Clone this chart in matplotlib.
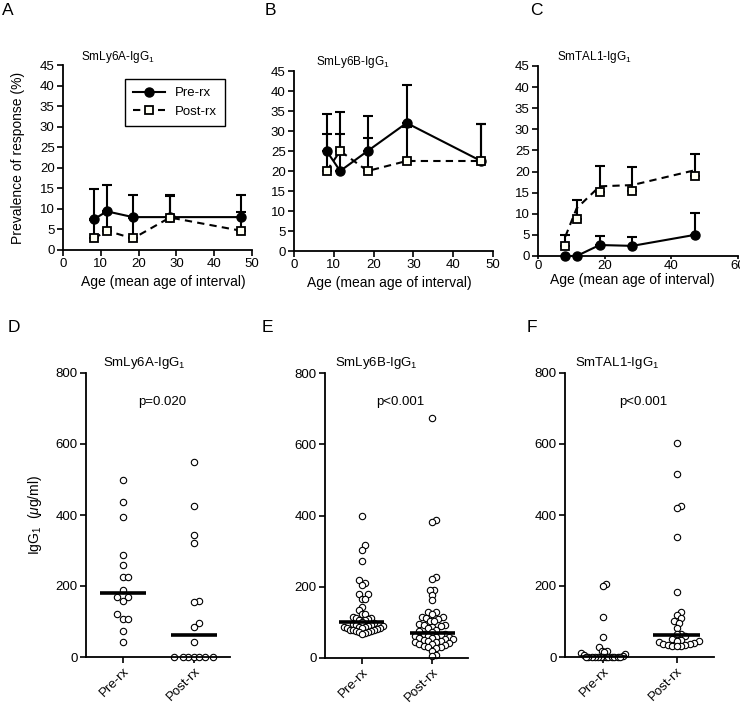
import numpy as np
import matplotlib
matplotlib.use("Agg")
import matplotlib.pyplot as plt
from matplotlib.lines import Line2D

plt.rcParams['font.family'] = ['Liberation Sans', 'DejaVu Sans']
plt.rcParams['mathtext.fontset'] = 'custom'
plt.rcParams['mathtext.rm'] = 'Liberation Sans'
plt.rcParams['mathtext.it'] = 'Liberation Sans:italic'

W, H = 740, 703

# ---------------------------------------------------------------------------
# top row: prevalence of response by age interval
# ---------------------------------------------------------------------------
ages = [8.2, 11.6, 18.5, 28.3, 47.0]

ly6a_pre = [7.5, 9.4, 8.0, 8.0, 8.0]
ly6a_pre_err = [7.4, 6.5, 5.3, 5.3, 5.5]
ly6a_post = [2.8, 4.7, 2.8, 7.9, 4.7]
ly6a_post_err = [4.5, 4.6, 5.0, 5.35, 4.65]

ly6b_pre = [25.0, 20.0, 25.0, 32.0, 22.5]
ly6b_pre_err = [9.2, 9.2, 8.75, 9.5, 9.2]
ly6b_post = [20.0, 25.0, 20.0, 22.5, 22.5]
ly6b_post_err = [9.2, 9.7, 8.3, 8.5, 9.2]

tal1_pre = [0.0, 0.0, 2.6, 2.4, 5.0]
tal1_pre_err = [0.0, 0.0, 2.2, 2.2, 5.2]
tal1_post = [2.4, 8.7, 15.1, 15.3, 18.9]
tal1_post_err = [2.6, 4.5, 6.2, 5.8, 5.2]
tal1_post_line = [4.6, 11.3, 16.5, 16.8, 20.3]

# ---------------------------------------------------------------------------
# bottom row: IgG1 levels (ug/ml), pre vs post treatment
# ---------------------------------------------------------------------------
groups = ['Pre-rx', 'Post-rx']

d_pre = [500, 438, 393, 288, 259, 225, 225, 190, 170, 170, 157, 121, 108, 108, 74, 42]
d_post = [548, 424, 345, 321, 159, 154, 96, 84, 42, 0, 0, 0, 0, 0, 0, 0]

e_pre = [399, 317, 304, 273, 218, 210, 206, 180, 180, 167, 167, 143, 134, 124, 124,
         115, 113, 112, 110, 108, 106, 102,
         98, 96, 94, 92, 91, 90, 88, 87, 86, 85, 84, 83, 82, 80, 79, 78, 77, 76,
         74, 72, 70, 68]
e_post = [674, 386, 381, 226, 222, 192, 192, 178, 162, 128, 128, 123,
          115, 115, 112, 109, 105, 103, 95, 93, 92, 90, 88, 85, 80, 75, 72,
          68, 66, 65, 63, 62, 60, 58, 57, 55, 53, 52, 50, 48, 47, 45, 44, 42,
          40, 38, 36, 34, 32, 30, 28, 21, 9, 5]

f_pre = [207, 200, 113, 56, 28, 18, 17, 15, 12, 9, 7, 4,
         0, 0, 0, 0, 0, 0, 0, 0, 0, 0, 0, 0, 0]
f_post = [602, 515, 424, 419, 337, 182, 127, 118, 111, 101, 96, 82, 66, 64,
          58, 50, 47, 46, 44, 42, 40, 38, 36, 34, 33, 32, 31, 30]

p_values = ['p=0.020', 'p<0.001', 'p<0.001']
antigens = ['SmLy6A', 'SmLy6B', 'SmTAL1']


def fig_box(left, top, right, bottom):
    return [left / W, 1 - bottom / H, (right - left) / W, (bottom - top) / H]


def fig_xy(x, y):
    return x / W, 1 - y / H


def style_axes(ax):
    for s in ['top', 'right']:
        ax.spines[s].set_visible(False)
    for s in ['left', 'bottom']:
        ax.spines[s].set_linewidth(1.3)
    ax.tick_params(direction='out', length=4, width=1.2, labelsize=9.5, pad=2)


def prevalence_panel(ax, pre, pre_err, post, post_err, xmax, xstep, post_line=None):
    z = np.zeros(len(ages))
    ax.plot(ages, pre, '-', color='black', lw=1.5, zorder=2, clip_on=False)
    ax.plot(ages, post_line if post_line else post, color='black', lw=1.5,
            ls=(0, (3.5, 2.5)), zorder=2, clip_on=False)
    for vals, err in [(pre, pre_err), (post, post_err)]:
        ax.errorbar(ages, vals, yerr=[z, err], fmt='none', ecolor='black',
                    elinewidth=1.5, capsize=3.5, capthick=1.5, zorder=3, clip_on=False)
    ax.plot(ages, pre, 'o', ms=6.5, mfc='black', mec='black', zorder=4, clip_on=False)
    ax.plot(ages, post, 's', ms=6, mfc='#fffff2', mec='black', mew=1.3, zorder=5,
            clip_on=False)
    ax.set_xlim(0, xmax)
    ax.set_xticks(np.arange(0, xmax + 1, xstep))
    ax.set_ylim(0, 45)
    ax.set_yticks(np.arange(0, 46, 5))
    style_axes(ax)
    ax.set_xlabel('Age (mean age of interval)', fontsize=10, va='top')


def swarm_x(ax, center, vals, d_px=5.6, half_w=0.3):
    vals = np.asarray(vals, dtype=float)
    y_px = ax.transData.transform(np.column_stack([np.full(len(vals), center), vals]))[:, 1]
    x_scale = ax.transData.transform([(1, 0)])[0, 0] - ax.transData.transform([(0, 0)])[0, 0]
    steps = [0]
    for k in range(1, 60):
        steps += [k, -k]
    step = d_px * 0.5
    px_list, py_list = [], []
    offs = np.zeros(len(vals))
    for i in np.argsort(vals, kind='stable'):
        x = 0.0
        for s in steps:
            x = s * step
            if all((x - a) ** 2 + (y_px[i] - b) ** 2 >= d_px ** 2
                   for a, b in zip(px_list, py_list)):
                break
        offs[i] = x
        px_list.append(x)
        py_list.append(y_px[i])
    offs = offs / x_scale
    m = np.abs(offs).max()
    if m > half_w:
        offs *= half_w / m
    return center + offs


def scatter_panel(ax, pre, post):
    ax.set_xlim(-0.52, 1.51)
    ax.set_ylim(0, 800)
    ax.set_yticks(np.arange(0, 801, 200))
    ax.set_xticks([0, 1])
    ax.set_xticklabels(groups, rotation=45, ha='right', rotation_mode='anchor')
    style_axes(ax)
    for c, vals in enumerate([pre, post]):
        xs = swarm_x(ax, c, vals)
        ax.scatter(xs, vals, s=21, facecolor='white', edgecolor='black',
                   linewidths=0.8, zorder=2, clip_on=False)
        med = np.median(vals)
        ax.hlines(med, c - 0.32, c + 0.32, color='black', lw=2.6, zorder=3)


fig = plt.figure(figsize=(W / 100, H / 100), dpi=100)

# top row axes (pixel boxes)
axA = fig.add_axes(fig_box(63, 65, 252, 250))
axB = fig.add_axes(fig_box(294, 71, 493, 251))
axC = fig.add_axes(fig_box(538, 66, 738, 256))

prevalence_panel(axA, ly6a_pre, ly6a_pre_err, ly6a_post, ly6a_post_err, 50, 10)
prevalence_panel(axB, ly6b_pre, ly6b_pre_err, ly6b_post, ly6b_post_err, 50, 10)
prevalence_panel(axC, tal1_pre, tal1_pre_err, tal1_post, tal1_post_err, 60, 20,
                 post_line=tal1_post_line)
axC.tick_params(axis='x', length=2, pad=1)
axA.set_ylabel('Prevalence of response (%)', fontsize=10)
axA.yaxis.set_label_coords(-0.2, 0.5)
axA.xaxis.set_label_coords(0.53, -0.135)
axB.xaxis.set_label_coords(0.48, -0.14)
axC.xaxis.set_label_coords(0.47, -0.09)

handles = [Line2D([], [], color='black', lw=1.5, marker='o', ms=6.5, mfc='black'),
           Line2D([], [], color='black', lw=1.5, ls=(0, (3.5, 2.5)), marker='s', ms=6,
                  mfc='#fffff2', mew=1.3)]
leg = axA.legend(handles, ['Pre-rx', 'Post-rx'], loc='upper left',
                 bbox_to_anchor=fig_xy(125, 79), bbox_transform=fig.transFigure,
                 borderaxespad=0, fontsize=9.5, frameon=True, fancybox=False,
                 edgecolor='black', framealpha=1, handlelength=2.4,
                 labelspacing=0.5, borderpad=0.6, handletextpad=0.8)
leg.get_frame().set_linewidth(1.0)

# bottom row axes
axD = fig.add_axes(fig_box(86, 373, 230, 657))
axE = fig.add_axes(fig_box(325, 373, 468, 658))
axF = fig.add_axes(fig_box(565, 373, 714, 657))

scatter_panel(axD, d_pre, d_post)
scatter_panel(axE, e_pre, e_post)
scatter_panel(axF, f_pre, f_post)
axD.set_ylabel(r'IgG$_1$  ($\mu$g/ml)', fontsize=10)
axD.yaxis.set_label_coords(-0.29, 0.5)

# titles
for (x, y), name in zip([(118, 57), (353, 62), (594, 57)], antigens):
    fig.text(*fig_xy(x, y), name + r'-IgG$_1$', fontsize=8.5, ha='center', va='center')
for (x, y), name in zip([(144, 363), (376, 363), (617, 363)], antigens):
    fig.text(*fig_xy(x, y), name + r'-IgG$_1$', fontsize=9.5, ha='center', va='center')

# p values
for (x, y), p in zip([(162, 402), (400, 402), (643, 402)], p_values):
    fig.text(*fig_xy(x, y), p, fontsize=9.5, ha='center', va='center')

# panel letters
for (x, y), letter in zip([(2, 3), (265, 3), (530, 3), (8, 320), (262, 320), (527, 320)],
                          'ABCDEF'):
    fig.text(*fig_xy(x, y), letter, fontsize=12.5, ha='left', va='top')

fig.savefig('out.png', dpi=100)
